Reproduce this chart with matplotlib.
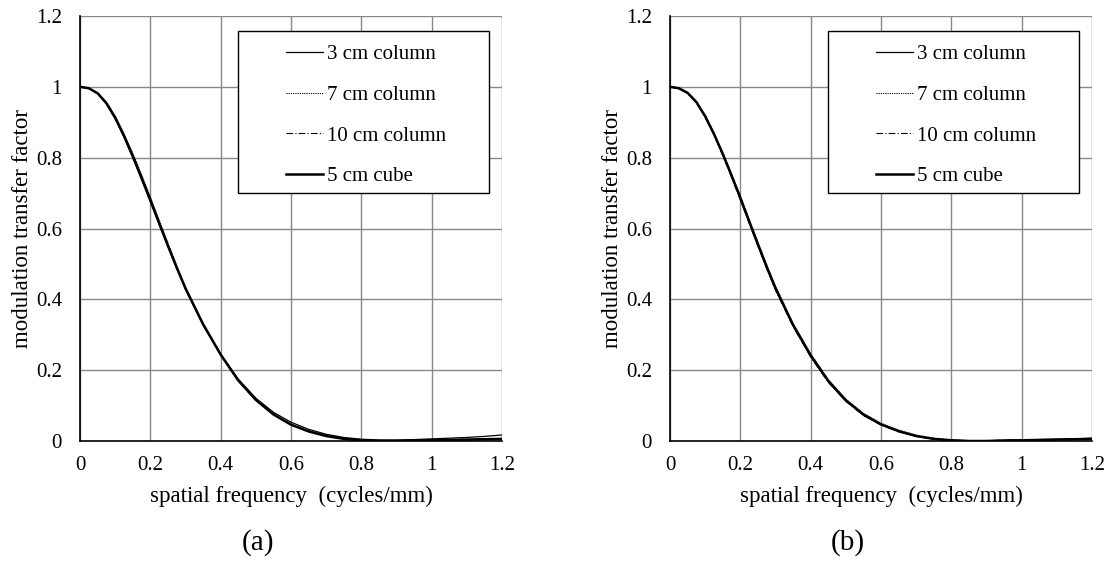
import matplotlib
matplotlib.use("Agg")
import matplotlib.pyplot as plt
from matplotlib.patches import Rectangle

plt.rcParams['font.family'] = ['Liberation Serif', 'DejaVu Serif']

freq = [0, 0.025, 0.05, 0.075, 0.1, 0.125, 0.15, 0.175, 0.2, 0.225, 0.25, 0.275, 0.3,
        0.35, 0.4, 0.45, 0.5, 0.55, 0.6, 0.65, 0.7, 0.75, 0.8, 0.85, 0.9, 0.95,
        1.0, 1.05, 1.1, 1.15, 1.2]

# panel (a)
a_3cm = [1.0, 0.996, 0.981, 0.952, 0.910, 0.858, 0.800, 0.738, 0.675, 0.611, 0.548,
         0.487, 0.428, 0.327, 0.245, 0.175, 0.121, 0.081, 0.053, 0.033, 0.019, 0.010,
         0.005, 0.003, 0.003, 0.004, 0.006, 0.008, 0.010, 0.013, 0.017]
a_7cm = [1.0, 0.996, 0.983, 0.957, 0.918, 0.868, 0.812, 0.752, 0.689, 0.624, 0.559,
         0.495, 0.434, 0.331, 0.246, 0.172, 0.117, 0.076, 0.048, 0.029, 0.016, 0.008,
         0.003, 0.001, 0.001, 0.002, 0.003, 0.004, 0.005, 0.006, 0.007]
a_10cm = [1.0, 0.996, 0.982, 0.955, 0.915, 0.864, 0.807, 0.746, 0.683, 0.618, 0.554,
          0.491, 0.431, 0.329, 0.243, 0.170, 0.115, 0.075, 0.047, 0.028, 0.015, 0.007,
          0.002, 0.001, 0.001, 0.002, 0.003, 0.004, 0.004, 0.005, 0.006]
a_cube = [1.0, 0.996, 0.982, 0.954, 0.913, 0.862, 0.805, 0.744, 0.681, 0.616, 0.552,
          0.490, 0.431, 0.330, 0.244, 0.171, 0.116, 0.075, 0.046, 0.027, 0.014, 0.006,
          0.002, 0.000, 0.000, 0.001, 0.002, 0.003, 0.004, 0.005, 0.006]

# panel (b)
b_3cm = [1.0, 0.996, 0.983, 0.956, 0.916, 0.866, 0.809, 0.747, 0.683, 0.617, 0.552,
         0.488, 0.428, 0.325, 0.239, 0.167, 0.113, 0.073, 0.046, 0.027, 0.014, 0.006,
         0.002, 0.001, 0.001, 0.002, 0.003, 0.004, 0.005, 0.006, 0.008]
b_7cm = [1.0, 0.996, 0.984, 0.958, 0.919, 0.870, 0.814, 0.753, 0.690, 0.625, 0.560,
         0.497, 0.436, 0.332, 0.246, 0.173, 0.118, 0.078, 0.050, 0.031, 0.017, 0.008,
         0.003, 0.001, 0.001, 0.002, 0.003, 0.004, 0.004, 0.005, 0.006]
b_10cm = [1.0, 0.996, 0.982, 0.955, 0.914, 0.864, 0.806, 0.745, 0.681, 0.615, 0.550,
          0.487, 0.426, 0.323, 0.237, 0.166, 0.112, 0.072, 0.045, 0.026, 0.013, 0.005,
          0.002, 0.000, 0.001, 0.002, 0.003, 0.003, 0.004, 0.005, 0.006]
b_cube = [1.0, 0.996, 0.983, 0.957, 0.917, 0.867, 0.811, 0.750, 0.687, 0.621, 0.556,
          0.492, 0.432, 0.328, 0.242, 0.170, 0.115, 0.075, 0.047, 0.028, 0.014, 0.006,
          0.002, 0.000, 0.000, 0.001, 0.002, 0.003, 0.004, 0.005, 0.006]

labels = ["3 cm column", "7 cm column", "10 cm column", "5 cm cube"]
styles = [dict(color="black", lw=0.9, ls="-"),
          dict(color="black", lw=0.8, ls=(0, (1, 1))),
          dict(color="black", lw=0.8, ls=(0, (6, 2, 1, 2))),
          dict(color="black", lw=1.8, ls="-")]

xticks = [0, 0.2, 0.4, 0.6, 0.8, 1.0, 1.2]
xticklabels = ["0", "0.2", "0.4", "0.6", "0.8", "1", "1.2"]
yticks = [0, 0.2, 0.4, 0.6, 0.8, 1.0, 1.2]
yticklabels = ["0", "0.2", "0.4", "0.6", "0.8", "1", "1.2"]

fig = plt.figure(figsize=(11.1, 5.63), dpi=100)
W, H = 1110, 563
panels = [
    (80, "(a)", [a_3cm, a_7cm, a_10cm, a_cube]),
    (670, "(b)", [b_3cm, b_7cm, b_10cm, b_cube]),
]
for left, tag, series in panels:
    ax = fig.add_axes([left / W, 1 - 441 / H, 422 / W, 425 / H])
    for s, lab, st in zip(series, labels, styles):
        ax.plot(freq, s, label=lab, **st)
    ax.set_xlim(0, 1.2)
    ax.set_ylim(0, 1.2)
    ax.set_xticks(xticks)
    ax.set_xticklabels(xticklabels)
    ax.set_yticks(yticks)
    ax.set_yticklabels(yticklabels)
    ax.grid(True, color="#888888", lw=1.0)
    ax.set_axisbelow(True)
    ax.tick_params(axis="x", length=0, labelsize=15, pad=11)
    ax.tick_params(axis="y", length=0, labelsize=15, pad=13)
    for sp in ["top", "right"]:
        ax.spines[sp].set_visible(False)
    for sp in ["left", "bottom"]:
        ax.spines[sp].set_color("black")
        ax.spines[sp].set_linewidth(1.2)
    ax.set_xlabel("spatial frequency  (cycles/mm)", fontsize=16.5)
    ax.xaxis.set_label_coords(0.5, -0.105)
    ax.set_ylabel("modulation transfer factor", fontsize=16.5)
    ax.yaxis.set_label_coords(-0.112, 0.5)

    # legend frame
    frame = Rectangle((0.374, 0.5835), 0.595, 0.381, transform=ax.transAxes,
                      facecolor="white", edgecolor="black", lw=1.0, zorder=4)
    ax.add_patch(frame)
    leg = ax.legend(loc="center left", bbox_to_anchor=(0.487, 0.766), fontsize=15,
                    frameon=False, handlelength=1.8, handletextpad=0.2,
                    labelspacing=1.02, borderpad=0, borderaxespad=0)
    leg.set_zorder(5)
    fig.text((left + 178) / W, 1 - 543 / H, tag, fontsize=21, ha="center", va="center")

fig.savefig("out.png", dpi=100, facecolor="white")
